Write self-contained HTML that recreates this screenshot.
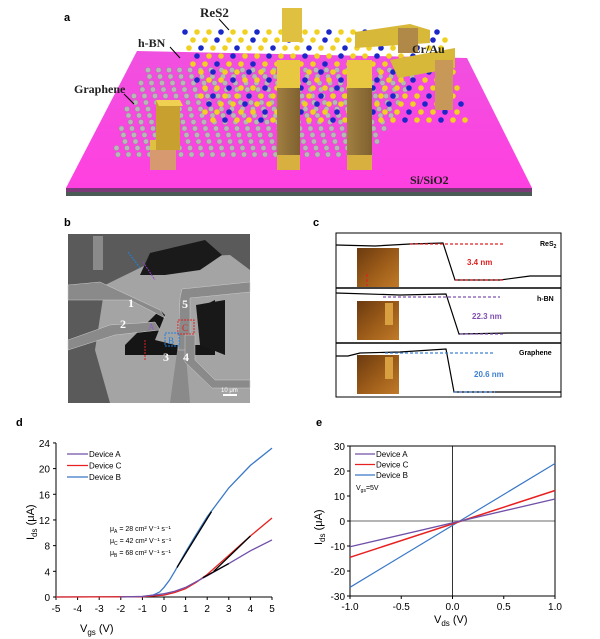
<!DOCTYPE html>
<html><head><meta charset="utf-8"><style>
body{margin:0;background:#fff;width:600px;height:639px;overflow:hidden}
svg{display:block}
text{font-family:"Liberation Sans",sans-serif}
text.sf{font-family:"Liberation Serif",serif}
</style></head><body>
<svg id="s" width="600" height="639" viewBox="0 0 600 639" xmlns="http://www.w3.org/2000/svg">
<defs>
<linearGradient id="pk" x1="0" y1="0" x2="0" y2="1"><stop offset="0" stop-color="#f050e0"/><stop offset="1" stop-color="#ff40e0"/></linearGradient>
<linearGradient id="au" x1="0" y1="0" x2="1" y2="0"><stop offset="0" stop-color="#a08040"/><stop offset="1" stop-color="#806030"/></linearGradient>
<linearGradient id="afm" x1="0" y1="0" x2="1" y2="1"><stop offset="0" stop-color="#6a3a10"/><stop offset="0.5" stop-color="#9a5a18"/><stop offset="1" stop-color="#c07a28"/></linearGradient>
</defs>
<!-- panel a -->
<text x="64" y="21" font-size="11" font-weight="bold">a</text>
<polygon points="66,190 532,190 532,196 66,196" fill="#4a5a55"/>
<polygon points="66,188 532,188 532,192 66,192" fill="#7a3a78"/>
<polygon points="137,51 467,58 532,188 66,188" fill="url(#pk)"/>
<g id="lat"></g>
<!-- gold bars -->
<polygon points="150,150 176,150 176,170 150,170" fill="#d79a70"/>
<polygon points="150,140 176,140 176,150 150,150" fill="#e0c040"/>
<polygon points="156,100 180,100 180,150 156,150" fill="#c8a030"/>
<polygon points="156,100 180,100 183,106 159,106" fill="#f0d050"/>
<rect x="277" y="60" width="23" height="110" fill="url(#au)"/>
<rect x="277" y="60" width="23" height="28" fill="#e8c840"/>
<rect x="277" y="155" width="23" height="15" fill="#d8b040"/>
<rect x="347" y="60" width="25" height="110" fill="url(#au)"/>
<rect x="347" y="60" width="25" height="28" fill="#e8c840"/>
<rect x="347" y="155" width="25" height="15" fill="#d8b040"/>
<rect x="282" y="8" width="20" height="34" fill="#e0c040"/>
<polygon points="355,32 410,24 430,30 430,43 355,48" fill="#d8b838"/>
<rect x="398" y="28" width="20" height="25" fill="#b08848"/>
<polygon points="390,60 455,48 455,68 398,78" fill="#d8b838"/>
<rect x="435" y="60" width="18" height="50" fill="#c89858"/>
<text class="sf" x="200" y="17" font-size="13" font-weight="bold" fill="#222">ReS2</text>
<text class="sf" x="138" y="47" font-size="12" font-weight="bold" fill="#222">h-BN</text>
<text class="sf" x="74" y="93" font-size="12" font-weight="bold" fill="#222">Graphene</text>
<text class="sf" x="412" y="53" font-size="12" font-weight="bold" fill="#222">Cr/Au</text>
<text class="sf" x="410" y="184" font-size="12" font-weight="bold" fill="#222">Si/SiO2</text>
<line x1="219" y1="19" x2="229" y2="30" stroke="#000"/><line x1="170" y1="47" x2="180" y2="58" stroke="#000"/><line x1="124" y1="94" x2="134" y2="104" stroke="#000"/>

<!-- panel b -->
<text x="64" y="226" font-size="11" font-weight="bold">b</text>
<rect x="68" y="234" width="182" height="169" fill="#5a5a5a"/>
<polygon points="105,285 160,258 230,255 250,270 250,403 110,403 95,350" fill="#a4a4a4"/>
<polygon points="140,275 150,253 205,240 222,255 200,270 165,275" fill="#1a1a1a"/>
<polygon points="125,345 160,310 165,315 155,340 175,345 200,345 205,305 215,300 215,355 125,355" fill="#151515"/>
<polygon points="196,305 225,300 225,355 200,345" fill="#181818"/>
<polygon points="68,285 100,282 160,310 165,318 130,300 68,300" fill="#8a8a8a" stroke="#ccc" stroke-width="0.5"/>
<polygon points="68,340 110,325 155,322 160,330 115,335 68,350" fill="#8a8a8a" stroke="#ccc" stroke-width="0.5"/>
<polygon points="178,345 185,345 190,403 170,403" fill="#8a8a8a"/>
<polygon points="180,298 182,289 250,282 250,292 190,298 190,350 178,350" fill="#8a8a8a" stroke="#ccc" stroke-width="0.5"/>
<polygon points="185,335 195,335 195,360 215,380 250,380 250,388 212,388 185,362" fill="#8a8a8a" stroke="#ccc" stroke-width="0.5"/>
<rect x="93" y="236" width="10" height="34" fill="#8a8a8a"/>
<g font-weight="bold" fill="#fff" font-size="12"><text class="sf" x="128" y="307">1</text><text class="sf" x="120" y="328">2</text><text class="sf" x="163" y="361">3</text><text class="sf" x="183" y="361">4</text><text class="sf" x="182" y="308">5</text></g>
<rect x="178" y="320" width="16" height="14" fill="none" stroke="#e02020" stroke-dasharray="2,1"/><text class="sf" x="182" y="331" font-size="9" fill="#e02020">C</text>
<rect x="165" y="333" width="14" height="13" fill="none" stroke="#2080e0" stroke-dasharray="2,1"/><text class="sf" x="168" y="344" font-size="9" fill="#2080e0">B</text>
<text class="sf" x="148" y="330" font-size="9" fill="#9060c0">A</text>
<line x1="145" y1="340" x2="145" y2="360" stroke="#e02020" stroke-dasharray="2,1"/>
<line x1="128" y1="252" x2="140" y2="268" stroke="#2080e0" stroke-dasharray="2,1"/>
<line x1="143" y1="262" x2="155" y2="280" stroke="#9040c0" stroke-dasharray="2,1"/>
<text x="221" y="392" font-size="6" fill="#fff">10 μm</text><rect x="223" y="394" width="14" height="2" fill="#fff"/>

<!-- panel c -->
<text x="313" y="226" font-size="11" font-weight="bold">c</text>
<rect x="336" y="233" width="225" height="164" fill="#fff" stroke="#000"/>
<line x1="336" y1="288" x2="561" y2="288" stroke="#000" stroke-width="1.5"/>
<line x1="336" y1="343" x2="561" y2="343" stroke="#000" stroke-width="1.5"/>
<rect x="357" y="248" width="42" height="39" fill="url(#afm)"/>
<rect x="357" y="301" width="42" height="39" fill="url(#afm)"/>
<rect x="357" y="355" width="42" height="39" fill="url(#afm)"/>
<rect x="385" y="303" width="8" height="22" fill="#d8a040"/><rect x="385" y="357" width="8" height="22" fill="#d8a040"/>
<g fill="none" stroke="#000" stroke-width="1.2">
<polyline points="336,245 375,246 410,244 443,243 455,280 500,280 530,276 561,276"/>
<polyline points="336,293 400,295 446,294 459,334 510,333 561,333"/>
<polyline points="336,356 348,356 360,353 400,352 446,349 454,392 500,392 561,392"/>
</g>
<g stroke-dasharray="3,2" stroke-width="1.2">
<line x1="410" y1="244" x2="503" y2="244" stroke="#e02020"/><line x1="455" y1="280" x2="503" y2="280" stroke="#e02020"/>
<line x1="383" y1="297" x2="500" y2="297" stroke="#8050b0"/><line x1="460" y1="334" x2="505" y2="334" stroke="#8050b0"/>
<line x1="385" y1="353" x2="495" y2="353" stroke="#4080d0"/><line x1="454" y1="392" x2="495" y2="392" stroke="#4080d0"/>
<line x1="367" y1="274" x2="367" y2="286" stroke="#e02020"/>
</g>
<g font-size="8" font-weight="bold">
<text x="467" y="265" fill="#e02020">3.4 nm</text>
<text x="472" y="319" fill="#8050b0">22.3 nm</text>
<text x="474" y="377" fill="#4080d0">20.6 nm</text>
<text x="540" y="246" font-size="7">ReS<tspan font-size="5" dy="2">2</tspan></text>
<text x="537" y="301" font-size="7">h-BN</text>
<text x="519" y="355" font-size="7">Graphene</text>
</g>

<!-- panel d -->
<text x="16" y="426" font-size="11" font-weight="bold">d</text>
<g id="d"></g>
<!-- panel e -->
<text x="316" y="426" font-size="11" font-weight="bold">e</text>
<g id="e"></g>
</svg>
<script>
var NS="http://www.w3.org/2000/svg";
function el(p,t,a,txt){var e=document.createElementNS(NS,t);for(var k in a)e.setAttribute(k,a[k]);if(txt!=null)e.textContent=txt;p.appendChild(e);return e;}
// lattice
var L=document.getElementById('lat');
for(var r=0;r<14;r++){for(var c=0;c<26;c++){var y=70+r*6.5;var x=120+c*10.5+(r%2)*5+r*-1.5+ (14-r)*2;
 if(x<110+ (14-r)*2 || x>430+r*4) continue;
 el(L,'circle',{cx:x,cy:y,r:2.6,fill:'#b8b8b8',stroke:'#888','stroke-width':0.4});}}
for(var r=0;r<12;r++){for(var c=0;c<22;c++){var y=32+r*8;var x=185+c*12+(r%2)*6+r*2;
 if(x>470+r*2) continue;
 el(L,'circle',{cx:x,cy:y,r:2.8,fill:((r+c)%3==0)?'#1a28c8':'#f0d020'});}}
// panel d
var D=document.getElementById('d');
function dx(v){return 56+(v+5)*21.6} function dy(i){return 597-i*6.42}
el(D,'line',{x1:56,y1:443,x2:56,y2:597,stroke:'#000'});
el(D,'line',{x1:56,y1:597,x2:272,y2:597,stroke:'#000'});
for(var v=-5;v<=5;v++){el(D,'line',{x1:dx(v),y1:597,x2:dx(v),y2:600,stroke:'#000'});el(D,'text',{x:dx(v),y:612,'font-size':10,'text-anchor':'middle'},v);}
for(var i=0;i<=24;i+=4){el(D,'line',{x1:53,y1:dy(i),x2:56,y2:dy(i),stroke:'#000'});el(D,'text',{x:50,y:dy(i)+4,'font-size':10,'text-anchor':'end'},i);}
function curve(g,pts,fx,fy,col,w){var s=pts.map(function(p){return fx(p[0]).toFixed(1)+','+fy(p[1]).toFixed(1)}).join(' ');el(g,'polyline',{points:s,fill:'none',stroke:col,'stroke-width':w||1.3});}
curve(D,[[-5,0],[-1,0.05],[-0.5,0.3],[-0.2,0.8],[0,1.5],[0.25,2.6],[0.5,4],[1,7],[1.5,9.8],[2,12.5],[3,17],[4,20.5],[5,23.2]],dx,dy,'#3a78c8');
curve(D,[[-5,0],[-1,0.05],[0,0.3],[0.5,0.7],[1,1.3],[1.5,2.3],[2,3.5],[3,6.5],[4,9.5],[5,12.3]],dx,dy,'#e82020');
curve(D,[[-2,0],[-1,0.1],[0,0.5],[0.5,0.9],[1,1.5],[1.5,2.4],[2,3.3],[3,5.2],[4,7.2],[5,8.9]],dx,dy,'#7050a8');
curve(D,[[0.6,4.6],[2.2,13.3]],dx,dy,'#000');curve(D,[[2.3,4],[4,9.5]],dx,dy,'#000');curve(D,[[1.8,3],[3,5.2]],dx,dy,'#000');
var lg=[['Device A','#7050a8'],['Device C','#e82020'],['Device B','#3a78c8']];
lg.forEach(function(l,k){var y=454+k*11.5;el(D,'line',{x1:67,y1:y,x2:88,y2:y,stroke:l[1],'stroke-width':1.3});el(D,'text',{x:89,y:y+3,'font-size':8},l[0]);});
['μ<tspan font-size="5" dy="2">A</tspan><tspan dy="-2"> = 28 cm² V⁻¹ s⁻¹</tspan>','μ<tspan font-size="5" dy="2">C</tspan><tspan dy="-2"> = 42 cm² V⁻¹ s⁻¹</tspan>','μ<tspan font-size="5" dy="2">B</tspan><tspan dy="-2"> = 68 cm² V⁻¹ s⁻¹</tspan>'].forEach(function(t,k){var e=el(D,'text',{x:110,y:531+k*12,'font-size':7});e.innerHTML=t;});
var t=el(D,'text',{x:80,y:632,'font-size':11});t.innerHTML='V<tspan font-size="8" dy="3">gs</tspan><tspan dy="-3"> (V)</tspan>';
t=el(D,'text',{x:0,y:0,'font-size':11,transform:'translate(34,540) rotate(-90)'});t.innerHTML='I<tspan font-size="8" dy="3">ds</tspan><tspan dy="-3"> (μA)</tspan>';
// panel e
var E=document.getElementById('e');
function ex(v){return 350+(v+1)*102.5} function ey(i){return 521-i*2.5}
el(E,'line',{x1:350,y1:521,x2:555,y2:521,stroke:'#888','stroke-width':1.2});
el(E,'line',{x1:452.5,y1:446,x2:452.5,y2:596,stroke:'#333'});
el(E,'rect',{x:350,y:446,width:205,height:150,fill:'none',stroke:'#000'});
[-1,-0.5,0,0.5,1].forEach(function(v){el(E,'line',{x1:ex(v),y1:596,x2:ex(v),y2:599,stroke:'#000'});el(E,'text',{x:ex(v),y:610,'font-size':10,'text-anchor':'middle'},v.toFixed(1));});
for(var i=-30;i<=30;i+=10){el(E,'line',{x1:347,y1:ey(i),x2:350,y2:ey(i),stroke:'#000'});el(E,'text',{x:345,y:ey(i)+4,'font-size':10,'text-anchor':'end'},i);}
curve(E,[[-1,-26.5],[1,23]],ex,ey,'#3a78c8',1.2);
curve(E,[[-1,-14.5],[1,12.2]],ex,ey,'#e82020',1.5);
curve(E,[[-1,-10.3],[1,8.8]],ex,ey,'#7050a8',1.3);
lg.forEach(function(l,k){var y=454+k*10.5;el(E,'line',{x1:355,y1:y,x2:375,y2:y,stroke:l[1],'stroke-width':1.3});el(E,'text',{x:376,y:y+3,'font-size':8},l[0]);});
t=el(E,'text',{x:356,y:490,'font-size':7});t.innerHTML='V<tspan font-size="5" dy="2">gs</tspan><tspan dy="-2">=5V</tspan>';
t=el(E,'text',{x:434,y:623,'font-size':11});t.innerHTML='V<tspan font-size="8" dy="3">ds</tspan><tspan dy="-3"> (V)</tspan>';
t=el(E,'text',{x:0,y:0,'font-size':11,transform:'translate(322,545) rotate(-90)'});t.innerHTML='I<tspan font-size="8" dy="3">ds</tspan><tspan dy="-3"> (μA)</tspan>';
</script>
</body></html>
